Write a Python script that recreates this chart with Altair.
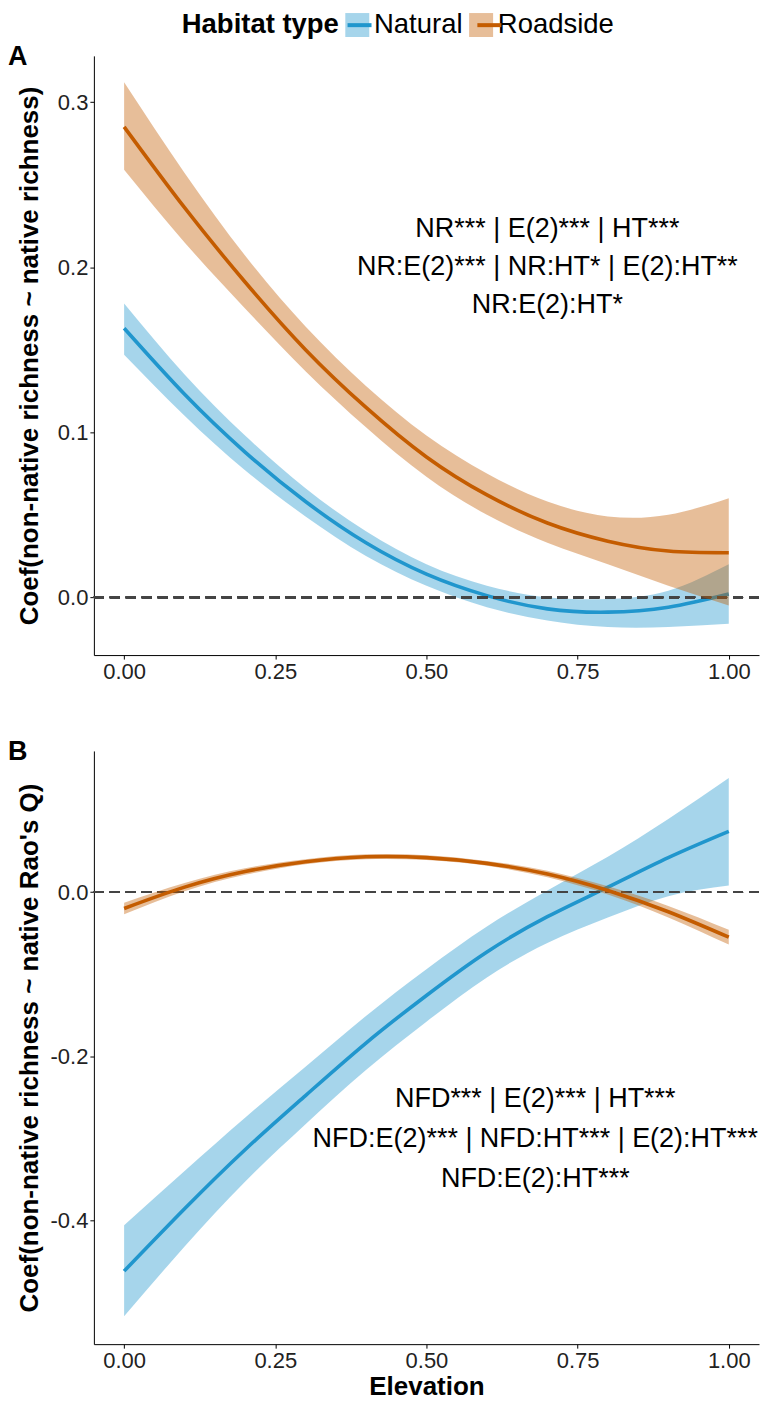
import altair as alt
import pandas as pd

# ---------------- data ----------------
ELEVATION = [0.0, 0.1, 0.2, 0.3, 0.4, 0.5, 0.6, 0.7, 0.8, 0.9, 1.0]
HABITATS = ["Natural", "Roadside"]

# Panel A : coef(non-native richness ~ native richness)
A_NAT_FIT = [0.163, 0.123, 0.088, 0.058, 0.033, 0.014, 0.001, -0.007, -0.009, -0.006, 0.002]
A_NAT_LO = [0.147, 0.110, 0.077, 0.049, 0.025, 0.007, -0.006, -0.014, -0.018, -0.018, -0.016]
A_NAT_HI = [0.178, 0.135, 0.098, 0.066, 0.040, 0.020, 0.007, 0.000, -0.001, 0.004, 0.020]
A_ROAD_FIT = [0.285, 0.236, 0.191, 0.150, 0.115, 0.085, 0.062, 0.045, 0.034, 0.028, 0.027]
A_ROAD_LO = [0.259, 0.215, 0.175, 0.137, 0.103, 0.073, 0.050, 0.033, 0.020, 0.007, -0.005]
A_ROAD_HI = [0.312, 0.257, 0.207, 0.164, 0.128, 0.098, 0.075, 0.058, 0.049, 0.050, 0.060]

# Panel B : coef(non-native richness ~ native Rao's Q)
B_NAT_FIT = [-0.462, -0.386, -0.314, -0.248, -0.184, -0.126, -0.073, -0.030, 0.006, 0.042, 0.074]
B_NAT_LO = [-0.517, -0.432, -0.353, -0.283, -0.217, -0.158, -0.104, -0.062, -0.031, -0.005, 0.008]
B_NAT_HI = [-0.406, -0.340, -0.275, -0.213, -0.151, -0.094, -0.042, 0.002, 0.043, 0.089, 0.139]
B_ROAD_FIT = [-0.020, 0.006, 0.025, 0.037, 0.043, 0.042, 0.035, 0.022, 0.002, -0.024, -0.055]
B_ROAD_LO = [-0.027, 0.001, 0.021, 0.034, 0.040, 0.039, 0.032, 0.018, -0.003, -0.031, -0.064]
B_ROAD_HI = [-0.013, 0.011, 0.029, 0.040, 0.046, 0.045, 0.038, 0.026, 0.007, -0.017, -0.046]

A_NOTE = ["NR*** | E(2)*** | HT***", "NR:E(2)*** | NR:HT* | E(2):HT**", "NR:E(2):HT*"]
B_NOTE = ["NFD*** | E(2)*** | HT***", "NFD:E(2)*** | NFD:HT*** | E(2):HT***", "NFD:E(2):HT***"]
# anchor of the first line of each note (data units)
A_NOTE_X, A_NOTE_Y = 0.70, 0.223
B_NOTE_X, B_NOTE_Y = 0.68, -0.252

X_TICKS = [0.0, 0.25, 0.5, 0.75, 1.0]
A_Y_TICKS = [0.0, 0.1, 0.2, 0.3]
B_Y_TICKS = [-0.4, -0.2, 0.0]

# ---------------- styling ----------------
FONT = "Liberation Sans, Arial, Helvetica, sans-serif"
COLORS = ["#2096CD", "#C45C00"]
X_DOMAIN = [-0.05, 1.05]
A_Y_DOMAIN = [-0.035, 0.328]
B_Y_DOMAIN = [-0.551, 0.172]
CURVE = "natural"

LEG_X, LEG_Y = 86, -47
LEG_FONT = 27.5
SYM = 576
TITLE_W = 160      # approx width of the bold legend title
LABEL_W = 86       # approx width of the label "Natural"


def frame(fit, lo, hi, habitat):
    return pd.DataFrame({"Elevation": ELEVATION, "fit": fit, "lo": lo, "hi": hi,
                         "Habitat": habitat})


fill_legend = alt.Legend(
    title="Habitat type", orient="none", legendX=LEG_X, legendY=LEG_Y,
    direction="horizontal", titleOrient="left", symbolType="square",
    symbolSize=SYM, symbolOpacity=0.4, symbolStrokeWidth=0,
    labelFontSize=LEG_FONT, labelFont=FONT, labelColor="black",
    titleFontSize=LEG_FONT, titleFont=FONT, titleFontWeight="bold", titleColor="black",
    titlePadding=4, labelOffset=3, columnPadding=4, padding=2,
)
# line keys drawn on top of the squares (no text of their own)
stroke_legend = alt.Legend(
    title=None, orient="none", legendX=LEG_X + TITLE_W + 4, legendY=LEG_Y,
    direction="horizontal", symbolType="stroke",
    symbolSize=SYM, symbolStrokeWidth=4, symbolOpacity=1,
    labelExpr="''", labelFontSize=LEG_FONT, labelOffset=3,
    columnPadding=LABEL_W + 4, padding=2,
)

fill_enc = alt.Fill("Habitat:N", scale=alt.Scale(range=COLORS), legend=fill_legend)
stroke_enc = alt.Stroke("Habitat:N", scale=alt.Scale(domain=HABITATS, range=COLORS),
                        legend=stroke_legend)

MINUS_FIX = "replace(format(datum.value, '.1f'), '\u2212', '-')"


def panel(nat, road, y_domain, y_ticks, y_title, x_title, width, height,
          extent, title_pad, label, note, note_x, note_y, note_lh):
    data = pd.concat([frame(*nat, "Natural"), frame(*road, "Roadside")], ignore_index=True)
    x_axis = alt.Axis(values=X_TICKS, format=".2f", title=x_title, labelPadding=2,
                      titlePadding=2)
    x = alt.X("Elevation:Q", scale=alt.Scale(domain=X_DOMAIN, nice=False, zero=False),
              axis=x_axis)
    y_axis = alt.Axis(values=y_ticks, labelExpr=MINUS_FIX, title=y_title,
                      minExtent=extent, maxExtent=extent, titlePadding=title_pad,
                      labelPadding=2)
    y_scale = alt.Scale(domain=y_domain, nice=False, zero=False)
    base = alt.Chart(data)
    layers = []
    for hab in HABITATS:
        sub = base.transform_filter(alt.datum.Habitat == hab)
        layers.append(sub.mark_area(opacity=0.4, interpolate=CURVE).encode(
            x=x, y=alt.Y("lo:Q", scale=y_scale, axis=y_axis), y2="hi:Q", fill=fill_enc))
        layers.append(sub.mark_line(strokeWidth=3.6, interpolate=CURVE).encode(
            x=x, y=alt.Y("fit:Q", scale=y_scale, axis=y_axis), stroke=stroke_enc))
    zero = base.mark_rule(color="#444444", strokeWidth=1.7, strokeDash=[10, 6]).encode(
        y=alt.datum(0.0))
    note_df = pd.DataFrame({"ex": [note_x], "cy": [note_y], "label": ["\n".join(note)]})
    text = alt.Chart(note_df).mark_text(
        font=FONT, fontSize=27, lineHeight=note_lh, lineBreak="\n", align="center",
        baseline="middle", color="black").encode(
        x=alt.X("ex:Q", scale=alt.Scale(domain=X_DOMAIN, nice=False, zero=False)),
        y=alt.Y("cy:Q", scale=y_scale), text="label:N")
    return alt.layer(layers[0], layers[1], zero, layers[2], layers[3], text).properties(
        width=width, height=height,
        title=alt.TitleParams(label, anchor="start", frame="group", fontSize=27,
                              fontWeight="bold", font=FONT, color="black", offset=0,
                              baseline="middle", dx=-86, dy=28),
    )


panel_a = panel((A_NAT_FIT, A_NAT_LO, A_NAT_HI), (A_ROAD_FIT, A_ROAD_LO, A_ROAD_HI),
                A_Y_DOMAIN, A_Y_TICKS, "Coef(non-native richness ~ native richness)", None,
                666, 600, 38, 13, "A", A_NOTE, A_NOTE_X, A_NOTE_Y, 38)
panel_b = panel((B_NAT_FIT, B_NAT_LO, B_NAT_HI), (B_ROAD_FIT, B_ROAD_LO, B_ROAD_HI),
                B_Y_DOMAIN, B_Y_TICKS, "Coef(non-native richness ~ native Rao's Q)",
                "Elevation", 666, 594, 42, 9.5, "B", B_NOTE, B_NOTE_X, B_NOTE_Y, 40)

chart = alt.vconcat(panel_a, panel_b, spacing=56).resolve_scale(
    x="independent", y="independent", fill="shared", stroke="shared"
).properties(padding=0, background="white").configure_view(stroke=None).configure_axis(
    grid=False, domainColor="black", domainWidth=1, tickColor="black", tickSize=4,
    tickWidth=1, labelFont=FONT, labelFontSize=22, labelColor="#222222",
    titleFont=FONT, titleFontSize=26, titleFontWeight="bold", titleColor="black",
)

chart.save("out.html", embed_options={"renderer": "svg", "actions": False})
